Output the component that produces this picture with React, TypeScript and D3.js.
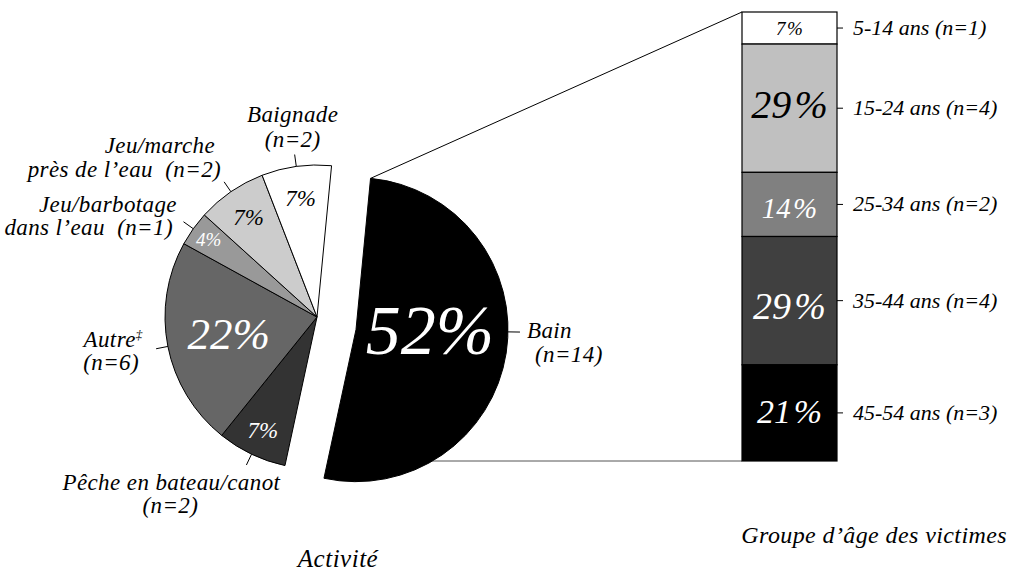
import React from "react";
import * as d3 from "d3";

// ---- Data ----
const activityLabels: string[][] = [
  ["Bain", "(n=14)"],
  ["Pêche en bateau/canot", "(n=2)"],
  ["Autre‡", "(n=6)"],
  ["Jeu/barbotage", "dans l\u2019eau  (n=1)"],
  ["Jeu/marche", "près de l\u2019eau  (n=2)"],
  ["Baignade", "(n=2)"],
];
const activityCounts = [14, 2, 6, 1, 2, 2];
const activityPct = ["52%", "7%", "22%", "4%", "7%", "7%"];

const ageLabels = ["5-14 ans (n=1)", "15-24 ans (n=4)", "25-34 ans (n=2)", "35-44 ans (n=4)", "45-54 ans (n=3)"];
const ageCounts = [1, 4, 2, 4, 3];
const agePct = ["7%", "29%", "14%", "29%", "21%"];

const axisTitles = ["Activité", "Groupe d\u2019âge des victimes"];

// ---- Styles ----
const W = 1009;
const H = 571;
const FONT = '"Liberation Serif", "DejaVu Serif", "Times New Roman", serif';
const sliceFill = ["#000000", "#333333", "#666666", "#999999", "#cccccc", "#ffffff"];
const pctFill = ["#ffffff", "#ffffff", "#ffffff", "#ffffff", "#000000", "#000000"];
const pctSize = [70, 23, 45, 19, 23, 23];
const pctRadius = [74, 126, 90, 133, 121, 120];
const angleShift = [-8, 0, 0, 0, 0, 0];
// label text offsets from leader end: [dx1, dy1, dx2, dy2]
const labelOffsets = [
  [7, 6, 15, 30],
  [-75, 25, -76, 48],
  [-43, -2, -45, 21],
  [-6.5, -10, -10.5, 13],
  [-9, -29, -3, -5],
  [-2, -33, -2, -8],
];
const labelAnchor = ["start", "middle", "middle", "end", "end", "middle"];

const barFill = ["#ffffff", "#c0c0c0", "#808080", "#404040", "#000000"];
const barText = ["#000000", "#000000", "#ffffff", "#ffffff", "#ffffff"];
const barPctSize = [19, 40, 29, 38, 34];
const barBaselineShift = [7, 10, 14, 18, 10.5];

const textStyle: React.CSSProperties = {
  fontFamily: FONT,
  fontStyle: "italic",
  whiteSpace: "pre",
};

function LabelText({ s }: { s: string }) {
  if (s.endsWith("‡")) {
    return (
      <>
        {s.slice(0, -1)}
        <tspan fontSize={13} dy={-8}>
          ‡
        </tspan>
      </>
    );
  }
  return <>{s}</>;
}

export default function App() {
  const cx = 317;
  const cy = 317;
  const R = 152;
  const rad = Math.PI / 180;
  const start = 5.5 * rad;

  const pie = d3
    .pie<number>()
    .sort(null)
    .value((d) => d)
    .startAngle(start)
    .endAngle(start + 2 * Math.PI);
  const arcs = pie(activityCounts);
  const arc = d3.arc<d3.PieArcDatum<number>>().innerRadius(0).outerRadius(R);

  const explodeAngle = 108 * rad;
  const explodeDist = 41;
  const offset = (i: number) =>
    i === 0 ? [explodeDist * Math.sin(explodeAngle), -explodeDist * Math.cos(explodeAngle)] : [0, 0];
  const polar = (a: number, r: number) => [r * Math.sin(a), -r * Math.cos(a)];

  // Bar
  const barX0 = 742;
  const barX1 = 837;
  const total = d3.sum(ageCounts);
  const y = d3.scaleLinear().domain([0, total]).range([12, 461]);
  const cum = d3.cumsum(ageCounts);
  const segs = ageCounts.map((c, i) => ({ y0: y(cum[i] - c), y1: y(cum[i]) }));

  const bo = offset(0);
  const bainTop = polar(arcs[0].startAngle, R);
  const topStart = [cx + bo[0] + bainTop[0], cy + bo[1] + bainTop[1]];

  return (
    <svg
      width={W}
      height={H}
      style={{ position: "absolute", left: 0, top: 0, background: "#fff" }}
    >
      <rect width={W} height={H} fill="#fff" />
      {/* connector lines */}
      <line x1={cx + bo[0]} y1={y(total)} x2={barX0} y2={y(total)} stroke="#555" strokeWidth={1} />
      <line x1={topStart[0]} y1={topStart[1]} x2={barX0} y2={y(0)} stroke="#000" strokeWidth={1} />

      {/* pie slices */}
      {arcs.map((a, i) => {
        const o = offset(i);
        return (
          <path
            key={i}
            d={arc(a) || ""}
            transform={`translate(${cx + o[0]},${cy + o[1]})`}
            fill={sliceFill[i]}
            stroke="#000"
            strokeWidth={1}
            strokeLinejoin="round"
          />
        );
      })}

      {/* pie percents */}
      {arcs.map((a, i) => {
        const o = offset(i);
        const m = (a.startAngle + a.endAngle) / 2 + angleShift[i] * rad;
        const p = polar(m, pctRadius[i]);
        return (
          <text
            key={i}
            x={cx + o[0] + p[0]}
            y={cy + o[1] + p[1] + pctSize[i] * 0.33}
            textAnchor="middle"
            fontSize={pctSize[i]}
            fill={pctFill[i]}
            style={textStyle}
          >
            {activityPct[i]}
          </text>
        );
      })}

      {/* leaders and labels */}
      {arcs.map((a, i) => {
        const o = offset(i);
        const m = (a.startAngle + a.endAngle) / 2 + angleShift[i] * rad;
        const p0 = polar(m, R);
        const p1 = polar(m, R + 12);
        const ex = cx + o[0] + p1[0];
        const ey = cy + o[1] + p1[1];
        const off = labelOffsets[i];
        return (
          <g key={i}>
            <line
              x1={cx + o[0] + p0[0]}
              y1={cy + o[1] + p0[1]}
              x2={ex}
              y2={ey}
              stroke="#000"
              strokeWidth={1}
            />
            <text
              x={ex + off[0]}
              y={ey + off[1]}
              textAnchor={labelAnchor[i]}
              fontSize={23}
              letterSpacing={0.4}
              fill="#000"
              style={textStyle}
            >
              <LabelText s={activityLabels[i][0]} />
            </text>
            <text
              x={ex + off[2]}
              y={ey + off[3]}
              textAnchor={labelAnchor[i]}
              fontSize={23}
              letterSpacing={0.4}
              fill="#000"
              style={textStyle}
            >
              {activityLabels[i][1]}
            </text>
          </g>
        );
      })}

      {/* stacked bar */}
      {segs.map((s, i) => (
        <g key={i}>
          <rect
            x={barX0}
            y={s.y0}
            width={barX1 - barX0}
            height={s.y1 - s.y0}
            fill={barFill[i]}
            stroke="#000"
            strokeWidth={1.2}
          />
          <text
            x={(barX0 + barX1) / 2}
            y={(s.y0 + s.y1) / 2 + barBaselineShift[i]}
            textAnchor="middle"
            fontSize={barPctSize[i]}
            fill={barText[i]}
            style={textStyle}
          >
            {agePct[i].replace("%", "\u200A%")}
          </text>
          <line
            x1={barX1}
            x2={barX1 + 6}
            y1={(s.y0 + s.y1) / 2}
            y2={(s.y0 + s.y1) / 2}
            stroke="#000"
            strokeWidth={1}
          />
          <text x={853} y={(s.y0 + s.y1) / 2 + 7} fontSize={22} fill="#000" style={textStyle}>
            {ageLabels[i]}
          </text>
        </g>
      ))}

      {/* titles */}
      <text x={338} y={567} textAnchor="middle" fontSize={25} letterSpacing={0.5} fill="#000" style={textStyle}>
        {axisTitles[0]}
      </text>
      <text x={1007} y={543} textAnchor="end" fontSize={24} letterSpacing={0.4} fill="#000" style={textStyle}>
        {axisTitles[1]}
      </text>
    </svg>
  );
}
